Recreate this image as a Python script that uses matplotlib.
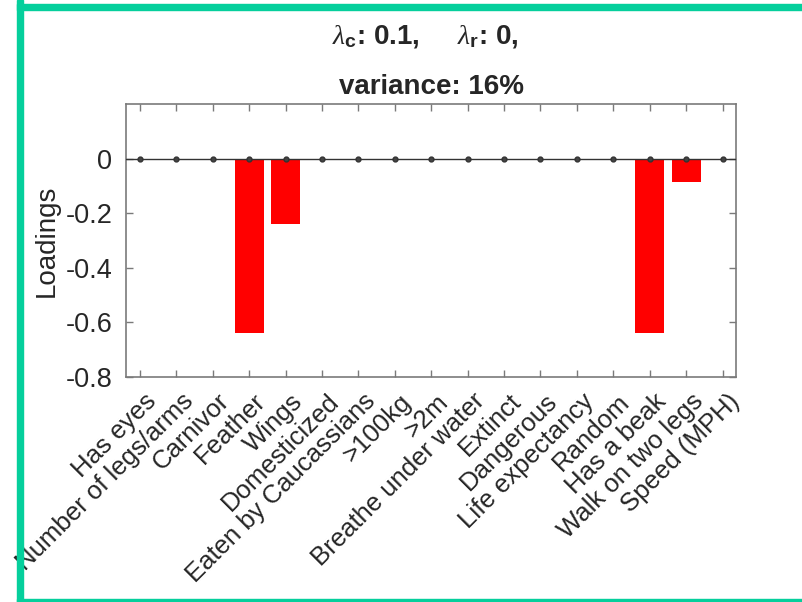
import matplotlib

matplotlib.use("Agg")
import matplotlib.pyplot as plt
import matplotlib.transforms as mtransforms
from matplotlib.patches import Rectangle

plt.rcParams["font.family"] = ["Liberation Sans", "DejaVu Sans"]
plt.rcParams["mathtext.fontset"] = "custom"
plt.rcParams["mathtext.rm"] = "Liberation Sans"
plt.rcParams["mathtext.it"] = "Liberation Serif:italic"
plt.rcParams["mathtext.bf"] = "Liberation Sans:bold"

# data
features = [
    "Has eyes", "Number of legs/arms", "Carnivor", "Feather", "Wings",
    "Domesticized", "Eaten by Caucassians", ">100kg", ">2m",
    "Breathe under water", "Extinct", "Dangerous", "Life expectancy",
    "Random", "Has a beak", "Walk on two legs", "Speed (MPH)",
]
loadings = [0, 0, 0, -0.64, -0.24, 0, 0, 0, 0, 0, 0, 0, 0, 0, -0.64, -0.085, 0]
baseline_marks = [0, 0, 0, 0, 0, 0, 0, 0, 0, 0, 0, 0, 0, 0, 0, 0, 0]
lambda_c = 0.1
lambda_r = 0
variance_pct = 16
y_ticks = [-0.8, -0.6, -0.4, -0.2, 0]

TEXT = "#262626"
AXIS = "#7a7a7a"
GREEN = "#05cf9c"

x = list(range(1, len(features) + 1))

fig = plt.figure(figsize=(8.03, 6.02), dpi=100)
ax = fig.add_axes([0.157, 0.374, 0.760, 0.453])

ax.bar(x, loadings, width=0.8, color="#ff0000", linewidth=0, zorder=2)
ax.axhline(0, color="#333333", lw=1.0, zorder=3)
ax.plot(x, baseline_marks, "o", ms=3.5, color="#333333", mfc="#444444", zorder=4)

ax.set_xlim(0.62, len(features) + 0.38)
ax.set_ylim(-0.8, 0.2)
ax.set_yticks(y_ticks)
ax.set_yticklabels([f"{v:g}" for v in y_ticks])
ax.set_xticks(x)
ax.set_xticklabels(features, rotation=45, ha="right", va="center",
                   rotation_mode="anchor")

ax.tick_params(axis="both", direction="in", length=5, width=1, color=AXIS,
               labelsize=18.5, labelcolor=TEXT, top=True, right=True)
ax.tick_params(axis="y", labelsize=19.5, pad=10)
ax.tick_params(axis="x", pad=15)
for s in ax.spines.values():
    s.set_color(AXIS)
    s.set_linewidth(1.2)

# nudge rotated labels right, like the reference
shift = mtransforms.ScaledTranslation(13 / 100, 0, fig.dpi_scale_trans)
for lab in ax.get_xticklabels():
    lab.set_transform(lab.get_transform() + shift)

ax.set_ylabel("Loadings", fontsize=20, color=TEXT, labelpad=4)

ax.text(0.49, 1.0 + 68 / 602 / 0.453,
        rf"$\lambda_{{\mathbf{{c}}}}$: {lambda_c},     $\lambda_{{\mathbf{{r}}}}$: {lambda_r},",
        transform=ax.transAxes, ha="center", va="center", fontsize=20,
        fontweight="bold", color=TEXT)
ax.text(0.5, 1.0 + 17 / 602 / 0.453, f"variance: {variance_pct}%",
        transform=ax.transAxes, ha="center", va="center", fontsize=20,
        fontweight="bold", color=TEXT)

# green frame around the screenshot (left, top, bottom)
fig.patches.append(Rectangle((17 / 803, 0), 6 / 803, 1, transform=fig.transFigure,
                             color=GREEN, zorder=10))
fig.patches.append(Rectangle((17 / 803, 1 - 10 / 602), 1, 6 / 602,
                             transform=fig.transFigure, color=GREEN, zorder=10))
fig.patches.append(Rectangle((17 / 803, 0), 1, 3 / 602, transform=fig.transFigure,
                             color=GREEN, zorder=10))

fig.savefig("out.png", dpi=100)
